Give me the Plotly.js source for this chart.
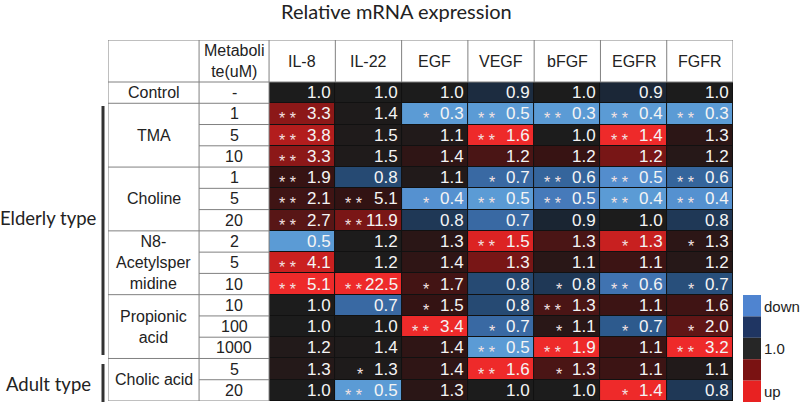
<!DOCTYPE html>
<html>
<head>
<meta charset="utf-8">
<script src="https://cdn.plot.ly/plotly-3.0.1.min.js"></script>
<style>html,body{margin:0;padding:0;background:#fff;}#chart{width:800px;height:418px;}</style>
</head>
<body>
<div id="chart"></div>
<script>
// ---------- data ----------
const genes = ['IL-8', 'IL-22', 'EGF', 'VEGF', 'bFGF', 'EGFR', 'FGFR'];
const groups = ['Control', 'TMA', 'Choline', 'N8-<br>Acetylsper<br>midine', 'Propionic<br>acid', 'Cholic acid'];
const groupSizes = [1, 3, 3, 3, 3, 2];
const doses = ['-', '1', '5', '10', '1', '5', '20', '2', '5', '10', '10', '100', '1000', '5', '20'];

const il8  = [1.0, 3.3, 3.8, 3.3, 1.9, 2.1, 2.7, 0.5, 4.1, 5.1, 1.0, 1.0, 1.2, 1.3, 1.0];
const il22 = [1.0, 1.4, 1.5, 1.5, 0.8, 5.1, 11.9, 1.2, 1.2, 22.5, 0.7, 1.0, 1.4, 1.3, 0.5];
const egf  = [1.0, 0.3, 1.1, 1.4, 1.1, 0.4, 0.8, 1.3, 1.4, 1.7, 1.5, 3.4, 1.4, 1.4, 1.3];
const vegf = [0.9, 0.5, 1.6, 1.2, 0.7, 0.5, 0.7, 1.5, 1.3, 0.8, 0.8, 0.7, 0.5, 1.6, 1.0];
const bfgf = [1.0, 0.3, 1.0, 1.2, 0.6, 0.5, 0.9, 1.3, 1.1, 0.8, 1.3, 1.1, 1.9, 1.3, 1.0];
const egfr = [0.9, 0.4, 1.4, 1.2, 0.5, 0.4, 1.0, 1.3, 1.1, 0.6, 1.1, 0.7, 1.1, 1.1, 1.4];
const fgfr = [1.0, 0.3, 1.3, 1.2, 0.6, 0.4, 0.8, 1.3, 1.2, 0.7, 1.6, 2.0, 3.2, 1.1, 0.8];

const il8Sig  = ['', '**', '**', '**', '**', '**', '**', '', '**', '**', '', '', '', '', ''];
const il22Sig = ['', '', '', '', '', '**', '**', '', '', '**', '', '', '', '*', '**'];
const egfSig  = ['', '*', '', '', '', '*', '', '', '', '*', '*', '**', '', '', ''];
const vegfSig = ['', '**', '**', '', '*', '**', '', '**', '', '', '', '*', '**', '**', ''];
const bfgfSig = ['', '**', '', '', '**', '**', '', '', '', '*', '**', '*', '**', '*', ''];
const egfrSig = ['', '**', '**', '', '**', '**', '', '*', '', '**', '', '*', '', '', '*'];
const fgfrSig = ['', '**', '', '', '**', '**', '', '*', '', '*', '', '*', '**', '', ''];

const legendLabels = ['down', '1.0', 'up'];

// ---------- build ----------
const cols = [il8, il22, egf, vegf, bfgf, egfr, fgfr];
const sigs = [il8Sig, il22Sig, egfSig, vegfSig, bfgfSig, egfrSig, fgfrSig];
const nRows = doses.length;
const nCols = genes.length;

// per-column 3-colour scale: min -> blue, 1.0 -> black, max -> red
const z = [];
for (let r = 0; r < nRows; r++) {
  const row = [];
  for (let c = 0; c < nCols; c++) {
    const v = cols[c][r];
    const mx = Math.max(...cols[c]);
    const mn = Math.min(...cols[c]);
    let t = 0;
    if (v > 1) t = (v - 1) / (mx - 1);
    else if (v < 1) t = -(1 - v) / (1 - mn);
    row.push(t);
  }
  z.push(row);
}

const colorscale = [
  [0, '#5b9bd5'], [0.075, '#5590d0'], [0.15, '#4478b8'], [0.25, '#2d5a8d'],
  [0.35, '#1f3a5a'], [0.425, '#1a2533'], [0.5, '#1c1c1c'], [0.6, '#331313'],
  [0.725, '#5e1616'], [0.75, '#781616'], [0.825, '#a81c1c'], [0.9, '#d82222'], [1, '#ee2a2a']
];

const xs = genes.map((g, i) => i);
const ys = doses.map((d, i) => i);

const heat = {
  type: 'heatmap', x: xs, y: ys, z: z, zmin: -1, zmax: 1,
  colorscale: colorscale, showscale: false, xgap: 1, ygap: 1, hoverinfo: 'skip'
};

// geometry in data units
const xL = -2.93, xMid = -1.556, xH = -0.5, xR = 6.5;
const yTop = -2.475, yHB = -0.5, yBot = 14.5;
const lineC = '#808080';
const tableFont = 'Liberation Sans, Arial, sans-serif';
const shapes = [];
const annotations = [];

function line(x0, y0, x1, y1, color, w) {
  shapes.push({type: 'line', xref: 'x', yref: 'y', x0, y0, x1, y1, line: {color: color || lineC, width: w || 1}});
}
// dark background under heatmap (cell separators)
shapes.push({type: 'rect', xref: 'x', yref: 'y', x0: xH, x1: xR, y0: yHB, y1: yBot, fillcolor: '#111', line: {width: 0}, layer: 'below'});
// header
line(xL, yTop, xR, yTop);
line(xL, yHB, xR, yHB);
line(xR, yTop, xR, yHB);
line(xL, yTop, xL, yBot);
line(xMid, yTop, xMid, yBot);
line(xH, yTop, xH, yBot);
for (let c = 0; c < nCols - 1; c++) line(c + 0.5, yTop, c + 0.5, yHB);
line(xL, yBot, xH, yBot);
for (let r = 0; r < nRows - 1; r++) line(xMid, r + 0.5, xH, r + 0.5);
let acc = 0;
const groupCenters = [];
groupSizes.forEach((s, gi) => {
  groupCenters.push(acc + (s - 1) / 2);
  acc += s;
  if (gi < groupSizes.length - 1) line(xL, acc - 0.5, xMid, acc - 0.5);
});

// header labels
genes.forEach((g, i) => annotations.push({x: i, y: (yTop + yHB) / 2, text: g, showarrow: false,
  font: {family: tableFont, size: 16, color: '#222'}}));
annotations.push({x: (xMid + xH) / 2, y: (yTop + yHB) / 2, text: 'Metaboli<br>te(uM)', showarrow: false,
  font: {family: tableFont, size: 16, color: '#222'}});
// group labels
groups.forEach((g, gi) => annotations.push({x: (xL + xMid) / 2, y: groupCenters[gi], text: g, showarrow: false,
  font: {family: tableFont, size: 16, color: '#222'}}));
// doses
doses.forEach((d, r) => annotations.push({x: (xMid + xH) / 2, y: r, text: d, showarrow: false,
  font: {family: tableFont, size: 16, color: '#222'}}));
// cell values and significance
for (let c = 0; c < nCols; c++) {
  for (let r = 0; r < nRows; r++) {
    annotations.push({x: c + 0.47, y: r, xanchor: 'right', text: cols[c][r].toFixed(1), showarrow: false,
      font: {family: tableFont, size: 17, color: '#f4f4f4'}});
    const s = sigs[c][r];
    if (s) annotations.push({x: c + (s.length === 2 ? -0.22 : -0.13), y: r, yshift: -5, text: s.split('').join(' '), showarrow: false,
      font: {family: tableFont, size: 16, color: '#f2e2e2'}});
  }
}

// outside labels
const px = v => (v - 108) / 625;       // pixel -> paper x
const py = v => (401 - v) / 361;       // pixel -> paper y
annotations.push({xref: 'paper', yref: 'paper', x: px(396), y: py(11), xanchor: 'center', yanchor: 'middle',
  text: 'Relative mRNA expression', showarrow: false, font: {family: 'Lato, sans-serif', size: 20, color: '#222'}});
annotations.push({xref: 'paper', yref: 'paper', x: px(99), y: py(218), xanchor: 'right', yanchor: 'middle',
  text: 'Elderly type', showarrow: false, font: {family: 'Lato, sans-serif', size: 18.5, color: '#222'}});
annotations.push({xref: 'paper', yref: 'paper', x: px(93), y: py(384), xanchor: 'right', yanchor: 'middle',
  text: 'Adult type', showarrow: false, font: {family: 'Lato, sans-serif', size: 18.5, color: '#222'}});
shapes.push({type: 'line', xref: 'paper', yref: 'paper', x0: px(103), x1: px(103), y0: py(106), y1: py(355), line: {color: '#333', width: 3}});
shapes.push({type: 'line', xref: 'paper', yref: 'paper', x0: px(103), x1: px(103), y0: py(364), y1: py(402), line: {color: '#333', width: 3}});

// colour key
const keyColors = ['#4f84d0', '#1f3562', '#262626', '#7a1212', '#e82222'];
keyColors.forEach((col, i) => {
  const top = 295 + i * 21.4;
  shapes.push({type: 'rect', xref: 'paper', yref: 'paper', x0: px(743), x1: px(761), y0: py(top), y1: py(top + 21.4),
    fillcolor: col, line: {width: 0}});
});
[306, 348, 391].forEach((yy, i) => annotations.push({xref: 'paper', yref: 'paper', x: px(762), y: py(yy), xanchor: 'left', yanchor: 'middle',
  text: legendLabels[i], showarrow: false, font: {family: tableFont, size: 15, color: '#222'}}));

const layout = {
  width: 800, height: 418,
  margin: {l: 108, r: 67, t: 40, b: 17, pad: 0},
  paper_bgcolor: '#fff', plot_bgcolor: '#fff',
  xaxis: {range: [xL, xR], showgrid: false, zeroline: false, showticklabels: false, ticks: '', showline: false, fixedrange: true},
  yaxis: {range: [yBot, yTop], showgrid: false, zeroline: false, showticklabels: false, ticks: '', showline: false, fixedrange: true},
  shapes: shapes, annotations: annotations, showlegend: false
};

Plotly.newPlot('chart', [heat], layout, {displayModeBar: false, staticPlot: true});
</script>
</body>
</html>
